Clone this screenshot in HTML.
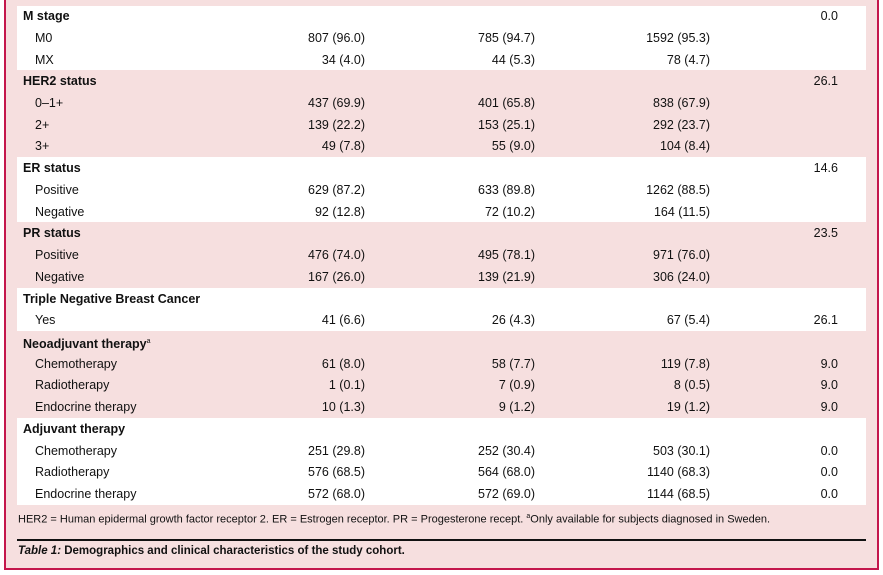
<!DOCTYPE html>
<html><head><meta charset="utf-8"><style>
body{margin:0;width:883px;height:575px;background:#fff;position:relative;overflow:hidden;font-family:"Liberation Sans",sans-serif;color:#111;}
.box{position:absolute;left:4px;top:-2px;width:871px;height:570px;background:#f6dfdf;border-left:2px solid #c4174c;border-right:2px solid #c4174c;border-bottom:2px solid #c4174c;}
.w{position:absolute;left:17px;width:849px;background:#fff;}
.r{position:absolute;left:0;width:883px;height:22px;line-height:22px;font-size:12.5px;}
.r span{position:absolute;white-space:nowrap;}
.h{left:23px;font-weight:bold;}
.i{left:35px;}
.c1{right:518px;}.c2{right:348px;}.c3{right:173px;}.c4{right:45px;}
</style></head><body>
<div class="box"></div>
<div class="w" style="top:6px;height:64px"></div>
<div class="w" style="top:157px;height:65px"></div>
<div class="w" style="top:288px;height:43px"></div>
<div class="w" style="top:418px;height:87px"></div>
<div style="position:absolute;left:20px;top:-9px;font-size:12px;color:#333">&nbsp;</div>
<div id="rows"></div>
<div style="position:absolute;left:18px;top:513px;font-size:11px;">HER2 = Human epidermal growth factor receptor 2. ER = Estrogen receptor. PR = Progesterone recept. <sup style="font-size:7px">a</sup>Only available for subjects diagnosed in Sweden.</div>
<div style="position:absolute;left:17px;top:539px;width:849px;height:2px;background:#111"></div>
<div style="position:absolute;left:18px;top:545px;font-size:11.5px;font-weight:bold;"><i>Table 1:</i> Demographics and clinical characteristics of the study cohort.</div>
<script>
var d=[["h","M stage","","","","0.0"],["i","M0","807 (96.0)","785 (94.7)","1592 (95.3)",""],["i","MX","34 (4.0)","44 (5.3)","78 (4.7)",""],
["h","HER2 status","","","","26.1"],["i","0–1+","437 (69.9)","401 (65.8)","838 (67.9)",""],["i","2+","139 (22.2)","153 (25.1)","292 (23.7)",""],["i","3+","49 (7.8)","55 (9.0)","104 (8.4)",""],
["h","ER status","","","","14.6"],["i","Positive","629 (87.2)","633 (89.8)","1262 (88.5)",""],["i","Negative","92 (12.8)","72 (10.2)","164 (11.5)",""],
["h","PR status","","","","23.5"],["i","Positive","476 (74.0)","495 (78.1)","971 (76.0)",""],["i","Negative","167 (26.0)","139 (21.9)","306 (24.0)",""],
["h","Triple Negative Breast Cancer","","","",""],["i","Yes","41 (6.6)","26 (4.3)","67 (5.4)","26.1"],
["h","Neoadjuvant therapy<sup style='font-size:7px;font-weight:normal'>a</sup>","","","",""],["i","Chemotherapy","61 (8.0)","58 (7.7)","119 (7.8)","9.0"],["i","Radiotherapy","1 (0.1)","7 (0.9)","8 (0.5)","9.0"],["i","Endocrine therapy","10 (1.3)","9 (1.2)","19 (1.2)","9.0"],
["h","Adjuvant therapy","","","",""],["i","Chemotherapy","251 (29.8)","252 (30.4)","503 (30.1)","0.0"],["i","Radiotherapy","576 (68.5)","564 (68.0)","1140 (68.3)","0.0"],["i","Endocrine therapy","572 (68.0)","572 (69.0)","1144 (68.5)","0.0"]];
var h="";d.forEach(function(r,k){var y=16+k*21.73-11;h+='<div class="r" style="top:'+y.toFixed(1)+'px"><span class="'+r[0]+'">'+r[1]+'</span><span class="c1">'+r[2]+'</span><span class="c2">'+r[3]+'</span><span class="c3">'+r[4]+'</span><span class="c4">'+r[5]+'</span></div>';});
document.getElementById("rows").innerHTML=h;
</script>
</body></html>
